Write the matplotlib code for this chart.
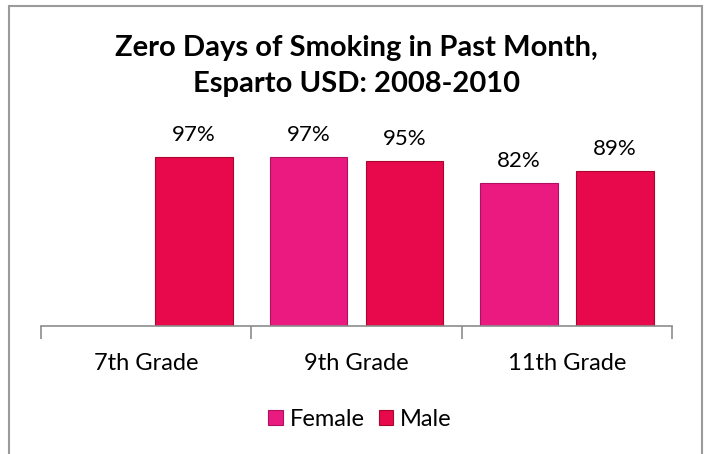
import matplotlib
matplotlib.use("Agg")
import matplotlib.pyplot as plt
import numpy as np
from matplotlib.patches import Rectangle

categories = ["7th Grade", "9th Grade", "11th Grade"]
female = [np.nan, 97, 82]
male = [97, 95, 89]
female_labels = ["", "97%", "82%"]
male_labels = ["97%", "95%", "89%"]
title = "Zero Days of Smoking in Past Month,\nEsparto USD: 2008-2010"

plt.rcParams['font.family'] = ['Lato', 'DejaVu Sans']

W, H = 704, 454
fig = plt.figure(figsize=(W / 100, H / 100), dpi=100)
fig.patch.set_facecolor("white")

# outer chart border
fig.add_artist(Rectangle((9 / W, -0.1), (702 - 9) / W, (H - 6) / H + 0.1,
                         transform=fig.transFigure, fill=False,
                         edgecolor="#9a9a9a", linewidth=1.5))

ax_left, ax_right = 41, 672
ax_bottom, ax_top = 326, 100
ax = fig.add_axes([ax_left / W, 1 - ax_bottom / H, (ax_right - ax_left) / W, (ax_bottom - ax_top) / H])
ymax = (ax_bottom - ax_top) / 1.742
ax.set_ylim(0, ymax)
ax.set_xlim(-0.5, 2.5)

x = np.arange(len(categories))
bw = 0.37
off = 0.228
fcol = "#EA1A80"
mcol = "#E8094C"
bf = ax.bar(x - off, female, bw, color=fcol, edgecolor="#B0105E", linewidth=0.8, label="Female")
bm = ax.bar(x + off, male, bw, color=mcol, edgecolor="#A8062F", linewidth=0.8, label="Male")

for xi, v, lab in zip(x - off, female, female_labels):
    if lab:
        ax.text(xi, v + 12.5, lab, ha="center", va="center", fontsize=16)
for xi, v, lab in zip(x + off, male, male_labels):
    ax.text(xi, v + 12.5, lab, ha="center", va="center", fontsize=16)

for s in ["top", "right", "left"]:
    ax.spines[s].set_visible(False)
ax.spines["bottom"].set_color("#8c8c8c")
ax.spines["bottom"].set_linewidth(1.2)
ax.set_yticks([])
ax.set_xticks([-0.5, 0.5, 1.5, 2.5])
ax.set_xticklabels([])
ax.tick_params(axis="x", length=9, color="#8c8c8c", width=1.2, direction="out")
for xi, c in zip(x, categories):
    ax.text(xi, -21.5, c, ha="center", va="center", fontsize=17, transform=ax.transData)

fig.text(356 / W, 1 - 66 / H, title, ha="center", va="center", fontsize=21,
         fontweight="bold", linespacing=1.45)

leg = fig.legend(handles=[bf, bm], labels=["Female", "Male"], loc="center",
                 bbox_to_anchor=(360 / W, 1 - 419 / H), ncol=2, frameon=False,
                 fontsize=17, handlelength=0.6, handleheight=0.6, handletextpad=0.3,
                 columnspacing=0.6)

fig.savefig("out.png", dpi=100)
